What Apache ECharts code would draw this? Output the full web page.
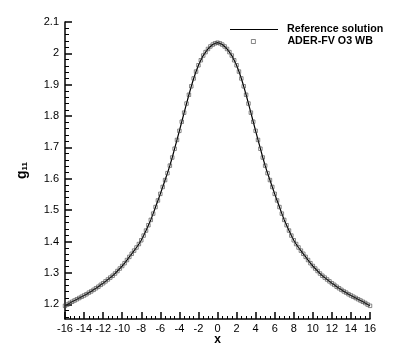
<!DOCTYPE html>
<html>
<head>
<meta charset="utf-8">
<script src="https://cdn.jsdelivr.net/npm/echarts@6/dist/echarts.min.js"></script>
<style>
  html, body { margin: 0; padding: 0; background: #fff; }
  #chart { width: 401px; height: 356px; }
</style>
</head>
<body>
<div id="chart"></div>
<script>
// sample positions along x
const xs = [
  -16,-15.75,-15.5,-15.25,-15,-14.75,-14.5,-14.25,-14,-13.75,-13.5,-13.25,-13,-12.75,-12.5,-12.25,
  -12,-11.75,-11.5,-11.25,-11,-10.75,-10.5,-10.25,-10,-9.75,-9.5,-9.25,-9,-8.75,-8.5,-8.25,
  -8,-7.75,-7.5,-7.25,-7,-6.75,-6.5,-6.25,-6,-5.75,-5.5,-5.25,-5,-4.75,-4.5,-4.25,
  -4,-3.75,-3.5,-3.25,-3,-2.75,-2.5,-2.25,-2,-1.75,-1.5,-1.25,-1,-0.75,-0.5,-0.25,
  0,
  0.25,0.5,0.75,1,1.25,1.5,1.75,2,2.25,2.5,2.75,3,3.25,3.5,3.75,4,
  4.25,4.5,4.75,5,5.25,5.5,5.75,6,6.25,6.5,6.75,7,7.25,7.5,7.75,8,
  8.25,8.5,8.75,9,9.25,9.5,9.75,10,10.25,10.5,10.75,11,11.25,11.5,11.75,12,
  12.25,12.5,12.75,13,13.25,13.5,13.75,14,14.25,14.5,14.75,15,15.25,15.5,15.75,16
];
// g11
const g11 = [
  1.195,1.199,1.204,1.208,1.212,1.216,1.220,1.224,1.228,1.232,1.237,1.241,1.246,1.251,1.256,1.262,
  1.267,1.273,1.279,1.285,1.291,1.298,1.306,1.314,1.322,1.331,1.341,1.351,1.361,1.371,1.381,1.392,
  1.404,1.419,1.435,1.452,1.469,1.489,1.510,1.531,1.552,1.574,1.596,1.618,1.642,1.668,1.696,1.724,
  1.753,1.782,1.811,1.840,1.868,1.895,1.920,1.942,1.962,1.978,1.993,2.004,2.014,2.022,2.028,2.032,
  2.034,
  2.032,2.028,2.022,2.014,2.004,1.993,1.978,1.962,1.942,1.920,1.895,1.868,1.840,1.811,1.782,1.753,
  1.724,1.696,1.668,1.642,1.618,1.596,1.574,1.552,1.531,1.510,1.489,1.469,1.452,1.435,1.419,1.404,
  1.392,1.381,1.371,1.361,1.351,1.341,1.331,1.322,1.314,1.306,1.298,1.291,1.285,1.279,1.273,1.267,
  1.262,1.256,1.251,1.246,1.241,1.237,1.232,1.228,1.224,1.220,1.216,1.212,1.208,1.204,1.199,1.195
];
const yTicks = [1.2, 1.3, 1.4, 1.5, 1.6, 1.7, 1.8, 1.9, 2, 2.1];
const yMinorTicks = [1.16, 1.18, 1.22, 1.24, 1.26, 1.28, 1.32, 1.34, 1.36, 1.38, 1.42, 1.44, 1.46, 1.48,
  1.52, 1.54, 1.56, 1.58, 1.62, 1.64, 1.66, 1.68, 1.72, 1.74, 1.76, 1.78, 1.82, 1.84, 1.86, 1.88,
  1.92, 1.94, 1.96, 1.98, 2.02, 2.04, 2.06, 2.08];

const FONT = 'Liberation Sans, Arial, sans-serif';
const pts = xs.map((x, i) => [x, g11[i]]);
const legendText = { fontFamily: FONT, fontSize: 10.7, fontWeight: 'bold', color: '#000' };

const chart = echarts.init(document.getElementById('chart'));
const option = {
  animation: false,
  textStyle: { fontFamily: FONT },
  grid: { left: 65, right: 31, top: 22, bottom: 37 },
  legend: [{
    left: 225,
    top: 19,
    itemWidth: 48,
    itemHeight: 1,
    selectedMode: false,
    textStyle: Object.assign({ padding: [0, 0, 0, 4] }, legendText),
    data: [{ name: 'Reference solution', icon: 'rect', itemStyle: { color: '#000' } }]
  }, {
    left: 246,
    top: 31,
    itemWidth: 4,
    itemHeight: 4,
    selectedMode: false,
    textStyle: Object.assign({ padding: [0, 0, 0, 27] }, legendText),
    data: [{
      name: 'ADER-FV O3 WB', icon: 'rect',
      itemStyle: { color: 'rgba(255,255,255,0)', borderColor: '#444', borderWidth: 0.8 }
    }]
  }],
  xAxis: {
    type: 'value',
    min: -16, max: 16, interval: 2,
    name: 'x',
    nameLocation: 'middle',
    nameGap: 15,
    nameMoveOverlap: false,
    nameTextStyle: { fontFamily: FONT, fontSize: 12, fontWeight: 'bold', color: '#000', verticalAlign: 'top' },
    axisLine: { onZero: false, lineStyle: { color: '#000', width: 1.5 } },
    axisTick: { inside: true, length: 7, lineStyle: { color: '#000', width: 1.5 } },
    minorTick: { show: true, splitNumber: 4, length: 3, lineStyle: { color: '#000', width: 1 } },
    axisLabel: { color: '#000', fontSize: 11, margin: 4, fontFamily: FONT },
    splitLine: { show: false }
  },
  yAxis: [{
    type: 'value',
    min: 1.153, max: 2.1,
    name: '{g|g}{s|11}',
    nameLocation: 'middle',
    nameRotate: 90,
    nameGap: 36,
    nameTextStyle: {
      rich: {
        g: { fontFamily: FONT, fontSize: 14, fontWeight: 'bold', color: '#000' },
        s: { fontFamily: FONT, fontSize: 8, fontWeight: 'bold', color: '#000', verticalAlign: 'bottom', padding: [6, 0, 0, 0] }
      }
    },
    axisLine: { onZero: false, lineStyle: { color: '#000', width: 1.5 } },
    axisTick: { inside: true, length: 7, customValues: yTicks, lineStyle: { color: '#000', width: 1.5 } },
    axisLabel: { color: '#000', fontSize: 11, margin: 6, fontFamily: FONT, customValues: yTicks },
    splitLine: { show: false }
  }, {
    type: 'value',
    min: 1.153, max: 2.1,
    position: 'left',
    axisLine: { show: false, onZero: false },
    axisTick: { show: true, inside: true, length: 4, customValues: yMinorTicks, lineStyle: { color: '#000', width: 1 } },
    axisLabel: { show: false },
    splitLine: { show: false }
  }],
  series: [{
    name: 'Reference solution',
    type: 'line',
    data: pts,
    symbol: 'none',
    lineStyle: { color: '#000', width: 1.2 },
    itemStyle: { color: '#000' },
    z: 2
  }, {
    name: 'ADER-FV O3 WB',
    type: 'scatter',
    data: pts,
    symbol: 'rect',
    symbolSize: 3.5,
    itemStyle: { color: 'rgba(255,255,255,0)', borderColor: '#444', borderWidth: 0.8 },
    z: 3
  }]
};
chart.setOption(option);
</script>
</body>
</html>
